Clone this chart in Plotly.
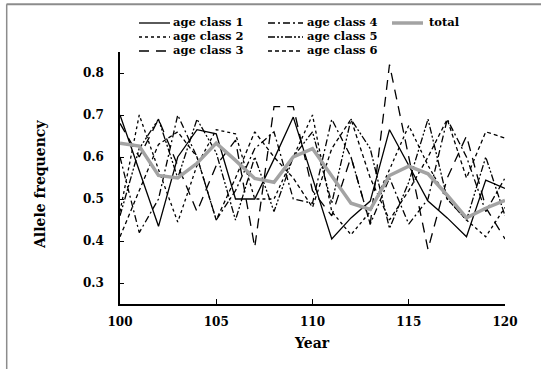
import plotly.graph_objects as go

years = list(range(100, 121))
age1 = [0.70, 0.57, 0.435, 0.60, 0.665, 0.655, 0.50, 0.50, 0.595, 0.695, 0.55,
        0.405, 0.455, 0.495, 0.665, 0.58, 0.495, 0.455, 0.41, 0.545, 0.525]
age2 = [0.47, 0.70, 0.57, 0.445, 0.58, 0.665, 0.655, 0.50, 0.50, 0.60, 0.70,
        0.47, 0.415, 0.47, 0.57, 0.675, 0.58, 0.50, 0.45, 0.41, 0.48]
age3 = [0.68, 0.60, 0.69, 0.58, 0.47, 0.58, 0.64, 0.385, 0.72, 0.72, 0.52,
        0.46, 0.60, 0.44, 0.82, 0.60, 0.38, 0.55, 0.65, 0.48, 0.405]
age4 = [0.60, 0.42, 0.50, 0.70, 0.60, 0.45, 0.52, 0.62, 0.66, 0.50, 0.49,
        0.69, 0.60, 0.44, 0.55, 0.44, 0.50, 0.69, 0.60, 0.47, 0.55]
age5 = [0.46, 0.62, 0.69, 0.55, 0.69, 0.61, 0.45, 0.60, 0.47, 0.60, 0.66,
        0.49, 0.69, 0.62, 0.43, 0.54, 0.69, 0.50, 0.45, 0.60, 0.46]
age6 = [0.41, 0.52, 0.63, 0.66, 0.60, 0.45, 0.55, 0.66, 0.60, 0.55, 0.48,
        0.62, 0.69, 0.55, 0.45, 0.52, 0.60, 0.69, 0.55, 0.66, 0.645]
total = [0.633, 0.626, 0.556, 0.55, 0.585, 0.633, 0.592, 0.549, 0.54, 0.60, 0.62,
         0.556, 0.49, 0.475, 0.556, 0.578, 0.56, 0.509, 0.455, 0.478, 0.497]

names = ["age class 1", "age class 2", "age class 3",
         "age class 4", "age class 5", "age class 6", "total"]
series = [age1, age2, age3, age4, age5, age6, total]
dashes = ["solid", "dot", "10px,7px", "7px,3px,2px,3px", "7px,2px,2px,2px,2px,2px",
          "4px,3px", "solid"]
colors = ["black"] * 6 + ["#a3a3a3"]
widths = [1.3] * 6 + [3.5]

x_ticks = [100, 105, 110, 115, 120]
y_ticks = [0.3, 0.4, 0.5, 0.6, 0.7, 0.8]

W, H = 541, 369
L, R, T, B = 120, 36, 52, 65
PW, PH = W - L - R, H - T - B

def px(xp):
    return (xp - L) / PW

def py(yp):
    return (H - B - yp) / PH

FONT = "DejaVu Serif"

fig = go.Figure()
for name, ys, d, c, w in zip(names, series, dashes, colors, widths):
    fig.add_trace(go.Scatter(x=years, y=ys, mode="lines", name=name,
                             line=dict(color=c, width=w, dash=d),
                             showlegend=False))

shapes = []
annotations = []
# manual legend (three columns, column-major)
col_line_x = [(139, 170), (268, 303), (392, 423)]
col_text_x = [172, 306, 428]
row_y = [23, 37, 51]
for i, (name, d, c, w) in enumerate(zip(names, dashes, colors, widths)):
    col, row = divmod(i, 3)
    x0, x1 = col_line_x[col]
    yy = row_y[row]
    shapes.append(dict(type="line", xref="paper", yref="paper",
                       x0=px(x0), x1=px(x1), y0=py(yy), y1=py(yy),
                       line=dict(color=c, width=w, dash=d)))
    annotations.append(dict(text=f"<b>{name}</b>", xref="paper", yref="paper",
                            x=px(col_text_x[col]), y=py(yy - 1), xanchor="left",
                            yanchor="middle", showarrow=False, borderpad=0,
                            font=dict(family=FONT, size=11.5, color="black")))

# frame of the page
shapes.append(dict(type="line", xref="paper", yref="paper",
                   x0=px(6.5), x1=px(541), y0=py(4.3), y1=py(4.3),
                   line=dict(color="#8c8c8c", width=2)))
shapes.append(dict(type="line", xref="paper", yref="paper",
                   x0=px(6.7), x1=px(6.7), y0=py(4.3), y1=py(369),
                   line=dict(color="#8c8c8c", width=1.5)))

annotations.append(dict(text="<b>Allele frequency</b>", xref="paper", yref="paper",
                        x=px(40), y=py(185), textangle=-90, showarrow=False,
                        xanchor="center", yanchor="middle",
                        font=dict(family=FONT, size=14, color="black")))
annotations.append(dict(text="<b>Year</b>", xref="paper", yref="paper",
                        x=px(312), y=py(343), showarrow=False,
                        xanchor="center", yanchor="middle",
                        font=dict(family=FONT, size=14, color="black")))

fig.update_layout(
    width=W, height=H,
    margin=dict(l=L, r=R, t=T, b=B, pad=0),
    paper_bgcolor="white", plot_bgcolor="white",
    showlegend=False,
    shapes=shapes, annotations=annotations,
    font=dict(family=FONT, size=12, color="black"),
)
fig.update_xaxes(range=[100, 120], tickvals=x_ticks,
                 ticktext=[f"<b>{v}</b>" for v in x_ticks],
                 ticks="inside", ticklen=5, tickwidth=1.2, tickcolor="black",
                 showline=True, linecolor="black", linewidth=1.5,
                 showgrid=False, zeroline=False, ticklabelstandoff=6,
                 tickfont=dict(family=FONT, size=12))
fig.update_yaxes(range=[0.25, 0.85], tickvals=y_ticks,
                 ticktext=[f"<b>{v:.1f}</b>" for v in y_ticks],
                 ticks="inside", ticklen=4, tickwidth=1.2, tickcolor="black",
                 showline=True, linecolor="black", linewidth=1.5,
                 showgrid=False, zeroline=False, ticklabelstandoff=12,
                 tickfont=dict(family=FONT, size=12))

fig.write_html("out.html")
